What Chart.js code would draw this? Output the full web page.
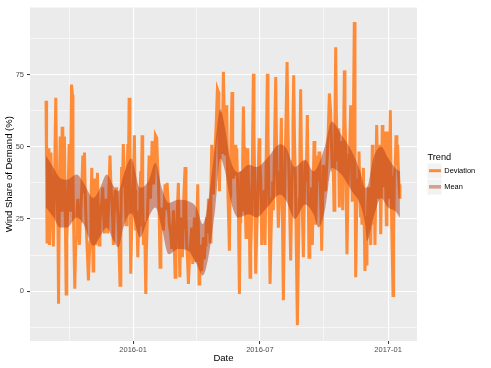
<!DOCTYPE html>
<html>
<head>
<meta charset="utf-8">
<script src="https://cdn.jsdelivr.net/npm/chart.js@4.4.1/dist/chart.umd.min.js"></script>
<style>
  html, body { margin: 0; padding: 0; background: #ffffff; }
  #wrap { width: 491px; height: 368px; }
</style>
</head>
<body>
<div id="wrap"><canvas id="chart" width="491" height="368"></canvas></div>
<script>
// x values are days counted from 2016-01-01
const deviation = [
    [-125, 66], [-124.2, 40], [-123.5, 17], [-122.5, 33], [-121.5, 49.5], [-120.8, 30], [-120, 16], [-119, 36],
    [-118, 48], [-116.3, 31], [-114.5, 15.5], [-112.8, 38], [-111, 67], [-109.8, 42], [-108.5, 28], [-107.8, 20],
    [-107, -4.4], [-105.9, 33], [-104.7, 53.6], [-104, 38], [-103.2, 28], [-102.5, 41], [-101.8, 57], [-100.9, 35],
    [-99.9, 28], [-99.2, 39], [-98.5, 53.6], [-97.3, 25], [-96.1, -1], [-95.2, 18], [-94.2, 25.5], [-93, 37],
    [-91.8, 51], [-91.1, 36], [-90.4, 28], [-89.5, 45], [-88.5, 71.6], [-87, 68], [-86.3, 40], [-85.6, 26.6],
    [-84.7, 14], [-83.7, 0.8], [-82.8, 12], [-81.8, 18.6], [-80.6, 27], [-79.4, 32], [-78.2, 22], [-77, 16],
    [-76, 24], [-75.1, 28], [-73.6, 36], [-72.2, 47], [-71, 34], [-69.8, 48], [-68.6, 33], [-67.4, 23],
    [-65.8, 14], [-64.1, 3.7], [-62.9, 12], [-61.7, 17], [-60.5, 30], [-59.3, 42.7], [-58.4, 24], [-57.4, 7],
    [-56.5, 26], [-55.5, 39], [-54.5, 25], [-53.6, 16], [-52.4, 28], [-51.2, 41], [-50, 27], [-48.8, 16],
    [-47.6, 24], [-46.4, 28], [-45, 31], [-43.6, 36], [-42.4, 27], [-41.2, 20], [-40, 26], [-38.8, 32],
    [-37.6, 26], [-36.4, 20], [-34.8, 34], [-33.2, 47], [-32, 38], [-30.7, 32], [-29.5, 25], [-28.4, 16],
    [-27.1, 27], [-25.9, 35], [-24.7, 28], [-23.6, 36], [-22.4, 29], [-21.2, 23], [-20, 13], [-18.8, 2],
    [-17.6, 24], [-16.5, 43], [-15.3, 36], [-14.1, 51], [-12.9, 42], [-11.7, 37], [-10.8, 30], [-10, 23],
    [-8.8, 38], [-7.6, 51], [-6.6, 44], [-5.7, 67], [-4.5, 33], [-3.4, 6], [-2.2, 20], [-1, 28],
    [0.5, 40], [1.9, 54], [2.8, 35], [3.8, 21], [5.2, 28], [6.7, 11.7], [7.6, 19], [8.6, 23],
    [9.8, 33], [11, 41.5], [12, 36], [12.9, 54], [13.8, 33], [14.8, 16], [16.5, 24], [18.2, -1],
    [19.1, 14], [20.1, 22], [21.5, 34], [23, 47], [24, 38], [24.9, 32], [26.1, 41], [27.3, 52],
    [28.5, 44], [29.6, 37], [30.8, 46], [32, 54], [33.9, 53], [35.1, 44], [36.3, 39], [37.5, 26],
    [38.7, 8.3], [39.9, 20], [41.1, 29], [42.3, 24], [43.5, 21], [44.7, 30], [45.9, 37], [47.3, 28],
    [48.8, 37.5], [50.5, 30], [52.1, 23], [53.8, 20], [55.5, 14.6], [56.7, 22], [57.9, 28], [59.1, 16],
    [60.3, 4.8], [61.5, 15], [62.6, 22], [63.8, 30], [65, 37.5], [66, 20], [67, 4.8], [68, 16],
    [68.9, 25.5], [69.9, 20], [70.8, 11.7], [71.8, 22], [72.7, 32], [73.7, 38], [74.6, 43], [75.8, 27],
    [77, 16], [78.2, 10], [79.4, 2.5], [80.9, 11], [82.3, 16], [84, 22], [85.6, 9.4], [86.8, 18],
    [88, 25.5], [89.2, 18], [90.4, 10.6], [91.6, 24], [92.8, 37], [93.8, 20], [94.7, 2.5], [95.7, 11],
    [96.6, 16], [97.6, 12], [98.5, 7], [99.7, 14], [100.9, 18.6], [102.1, 11], [103.3, 16], [104.5, 21],
    [105.7, 25.5], [106.9, 20], [108.1, 32], [109.3, 24], [110.5, 17], [111.7, 35], [112.9, 50.7], [114.1, 40],
    [115.3, 33.5], [116.5, 42], [117.6, 49.5], [119.3, 58], [121, 70], [122.4, 69], [123.1, 50], [123.9, 34.6],
    [125.1, 52], [126.3, 62], [127, 55], [127.7, 48], [128.6, 60], [129.6, 76], [131, 58], [132.5, 47],
    [133.4, 55], [134.4, 64.4], [135.3, 46], [136.3, 32], [137.2, 24], [138.2, 14], [139.1, 33], [140.1, 48],
    [141, 58], [142, 69], [143, 50], [143.9, 39], [145.2, 45], [146.4, 50.7], [147.5, 40], [148.7, 49.5],
    [149.9, 38], [151.1, 28], [151.8, 14], [152.6, -1], [153.5, 24], [154.5, 41.5], [155.4, 33], [156.4, 28],
    [157.3, 46], [158.3, 64], [159.2, 50], [160.2, 39], [161.1, 28], [162.1, 18.6], [163.3, 36], [164.5, 49.5],
    [165.4, 40], [166.4, 32], [167.1, 18], [167.8, 4.8], [168.8, 14], [169.8, 22], [171.2, 45], [172.6, 75.3],
    [173.5, 55], [174.5, 39], [175.2, 22], [176, 6], [177.2, 18], [178.4, 28], [179.6, 40], [180.8, 53],
    [182, 44], [183.2, 39], [183.9, 28], [184.6, 16], [185.8, 24], [187, 28], [188.2, 35], [189.4, 16],
    [191, 45], [192.7, 75.3], [193.6, 55], [194.6, 39], [195.6, 20], [196.6, 2.5], [198, 20], [199.4, 32],
    [200.3, 38], [201.3, 28], [203, 50], [204.7, 74.2], [205.6, 55], [206.6, 41.5], [207.5, 32], [208.5, 22],
    [209.7, 30], [210.9, 39], [211.8, 48], [212.8, 60], [214.2, 28], [215.7, -3.2], [216.9, 22], [218.1, 43.8],
    [219.5, 60], [221, 79.4], [222.4, 55], [223.8, 39], [225, 25], [226.2, 10.6], [227.4, 30], [228.6, 45],
    [229.5, 58], [230.5, 74.8], [231.7, 52], [232.9, 39], [234.3, 15], [235.8, -11.8], [237.2, 12], [238.6, 32],
    [239.5, 50], [240.5, 70], [241.7, 45], [242.9, 28], [243.6, 20], [244.4, 11.7], [245.6, 30], [246.8, 45],
    [248.4, 38], [250.1, 61], [251.3, 35], [252.5, 11.7], [253.7, 22], [254.9, 28], [256.1, 36], [257.3, 16],
    [258.5, 35], [259.7, 52], [260.9, 38], [262.1, 23], [263.3, 35], [264.5, 47], [265.7, 38], [266.9, 48.4],
    [268.1, 40], [269.3, 32], [270, 24], [270.7, 14], [271.9, 30], [273.1, 43.8], [274.7, 38], [276.4, 34.6],
    [277.6, 42], [278.8, 47], [280.2, 56], [281.7, 68.5], [283.6, 62], [284.8, 50], [286, 41.5], [287.2, 46],
    [288.4, 28], [289.6, 55], [290.8, 84.5], [291.7, 62], [292.7, 50.7], [293.6, 45], [294.6, 56.4], [295.3, 42],
    [296, 29], [297.2, 52], [298.4, 45], [299.6, 40], [300.8, 28], [302, 50], [303.2, 76.5], [304.1, 60],
    [305.1, 50.7], [306, 30], [307, 12.8], [308.4, 35], [309.9, 47], [311.1, 52], [312.3, 64.4], [313.5, 45],
    [314.7, 31], [316.1, 55], [317.5, 93.3], [318.5, 45], [319.5, 4.8], [320.7, 25], [321.9, 39], [323, 35],
    [324.2, 48.4], [325.4, 36], [326.6, 25.5], [327.5, 34], [328.5, 23], [329.5, 33], [330.5, 42.7], [331.6, 26],
    [332.8, 7], [333.8, 18], [334.8, 9.4], [335.7, 20], [336.7, 28], [337.6, 36], [338.6, 30], [339.8, 24],
    [341, 16], [342.2, 32], [343.4, 50.7], [344.3, 36], [345.3, 23], [346.2, 33], [347.2, 16], [348.4, 38],
    [349.6, 57.6], [350.8, 44], [352, 32], [353.2, 40], [354.4, 50.7], [355.1, 35], [355.8, 19.7], [356.7, 40],
    [357.7, 57.6], [358.6, 38], [359.6, 45], [360.6, 36], [361.6, 55.3], [362.5, 38], [363.5, 23], [364.4, 40],
    [365.4, 55.3], [366.3, 42], [367.3, 32], [368.2, 45], [369.2, 62.7], [370.2, 40], [371.2, 23], [372.1, 12],
    [373.1, -1.5], [374, 20], [375, 39], [376.2, 44], [377.4, 54], [378.6, 45], [379.8, 50.7], [380.7, 42],
    [381.7, 37], [383, 32]
];

// smoothed mean band: [day, lower, upper]
const meanBand = [
    [-125, 29, 47], [-114, 25.5, 42.7], [-105, 22, 39.2], [-95, 22, 38.6], [-81, 25.5, 40.4], [-71, 23.2, 37.5],
    [-57, 15.7, 32.3], [-47, 19, 36], [-38, 22, 40.4], [-28, 17.4, 36.4], [-21, 15.2, 34.6], [-14, 22, 40],
    [-3, 27, 46], [10, 18.6, 35.8], [22, 25.5, 38.1], [32, 29, 44.4], [41, 22, 35.8], [51, 12.8, 30.6],
    [65, 14.6, 31.7], [79, 14, 31.2], [91, 9.4, 28.9], [100, 5.4, 23.2], [109, 13, 33], [118, 29, 51],
    [125, 46, 63], [132, 41.5, 56.4], [139, 32.3, 46.1], [151, 25.5, 41.1], [166, 26.6, 43.8], [177, 25.5, 43],
    [192, 28.9, 45.9], [211, 33.5, 50.9], [220, 31.2, 49.5], [232, 25, 43], [247, 30, 45.5], [259, 26.6, 41.5],
    [266, 22, 43.8], [276, 28.9, 50.7], [285, 42.7, 58.7], [299, 40.4, 54.1], [314, 34.6, 48.4], [326, 30, 41.5],
    [333, 23.2, 35.8], [336, 17.4, 36], [345, 25.5, 46.1], [356, 32.3, 50], [366, 29, 46.1], [376, 27.8, 42.7],
    [383, 25.5, 41.5]
];

const xTickDays = [0, 182, 366];
const xTickLabels = ['2016-01', '2016-07', '2017-01'];
const xMinorDays = [-92, 91, 274];
const yTicks = [0, 25, 50, 75];
const yMinorTicks = [-12.5, 12.5, 37.5, 62.5, 87.5];

const lineColor = '#fe8b38';
const bandColor = 'rgba(175, 60, 25, 0.5)';

Chart.defaults.font.family = '"Liberation Sans", Arial, sans-serif';

// grey ggplot panel
const panelBg = {
    id: 'panelBg',
    beforeDraw(chart) {
        const a = chart.chartArea;
        const ctx = chart.ctx;
        ctx.save();
        ctx.fillStyle = '#ebebeb';
        ctx.fillRect(a.left, a.top, a.right - a.left, a.bottom - a.top);
        ctx.restore();
    }
};

// legend drawn by hand to look like ggplot's
const trendLegend = {
    id: 'trendLegend',
    afterDraw(chart) {
        const ctx = chart.ctx;
        ctx.save();
        ctx.textBaseline = 'middle';
        ctx.textAlign = 'left';
        ctx.fillStyle = '#000000';
        ctx.font = '9.2px "Liberation Sans", Arial, sans-serif';
        ctx.fillText('Trend', 427.5, 157.5);

        ctx.fillStyle = '#f2f2f2';
        ctx.fillRect(427.5, 163.5, 14, 15);
        ctx.fillRect(427.5, 179.5, 14, 15);

        ctx.strokeStyle = lineColor;
        ctx.lineWidth = 3;
        ctx.beginPath();
        ctx.moveTo(429, 170.7);
        ctx.lineTo(441, 170.7);
        ctx.stroke();

        ctx.fillStyle = 'rgba(175, 60, 25, 0.45)';
        ctx.fillRect(429, 185, 12, 3.6);

        ctx.fillStyle = '#000000';
        ctx.font = '7.4px "Liberation Sans", Arial, sans-serif';
        ctx.fillText('Deviation', 444.3, 171);
        ctx.fillText('Mean', 444.3, 187);
        ctx.restore();
    }
};

const ctx = document.getElementById('chart').getContext('2d');

new Chart(ctx, {
    type: 'line',
    data: {
        datasets: [{
            label: 'Mean low',
            data: meanBand.map(d => ({ x: d[0], y: d[1] })),
            borderWidth: 0,
            borderColor: 'rgba(0,0,0,0)',
            pointRadius: 0,
            fill: false,
            cubicInterpolationMode: 'monotone',
            order: 0
        }, {
            label: 'Mean',
            data: meanBand.map(d => ({ x: d[0], y: d[2] })),
            borderWidth: 0,
            borderColor: 'rgba(0,0,0,0)',
            backgroundColor: bandColor,
            pointRadius: 0,
            fill: '-1',
            cubicInterpolationMode: 'monotone',
            order: 0
        }, {
            label: 'Deviation',
            data: deviation.map(d => ({ x: d[0], y: d[1] })),
            borderColor: lineColor,
            borderWidth: 3,
            pointRadius: 0,
            tension: 0,
            fill: false,
            order: 1
        }]
    },
    options: {
        responsive: false,
        animation: false,
        events: [],
        layout: {
            padding: { top: 5, right: 74, left: 0, bottom: 0 }
        },
        plugins: {
            legend: { display: false },
            tooltip: { enabled: false }
        },
        scales: {
            x: {
                type: 'linear',
                min: -148,
                max: 407.5,
                afterBuildTicks: function(scale) {
                    scale.ticks = xMinorDays.concat(xTickDays).sort((a, b) => a - b).map(v => ({ value: v }));
                },
                afterFit: function(scale) {
                    scale.height = 27;
                },
                border: { display: false },
                grid: {
                    color: '#ffffff',
                    lineWidth: c => xTickDays.includes(c.tick.value) ? 1.1 : 0.55,
                    tickLength: 3,
                    tickWidth: 1,
                    tickColor: c => xTickDays.includes(c.tick.value) ? '#333333' : 'rgba(0,0,0,0)'
                },
                ticks: {
                    autoSkip: false,
                    maxRotation: 0,
                    padding: 1,
                    color: '#4d4d4d',
                    font: { size: 7.5 },
                    callback: function(value) {
                        const i = xTickDays.indexOf(value);
                        return i >= 0 ? xTickLabels[i] : '';
                    }
                },
                title: {
                    display: true,
                    text: 'Date',
                    color: '#000000',
                    font: { size: 9.5 },
                    padding: { top: 4, bottom: 4 }
                }
            },
            y: {
                type: 'linear',
                min: -17.3,
                max: 98.3,
                afterBuildTicks: function(scale) {
                    scale.ticks = yMinorTicks.concat(yTicks).sort((a, b) => a - b).map(v => ({ value: v }));
                },
                afterFit: function(scale) {
                    scale.width = 30;
                },
                border: { display: false },
                grid: {
                    color: '#ffffff',
                    lineWidth: c => yTicks.includes(c.tick.value) ? 1.1 : 0.55,
                    tickLength: 3,
                    tickWidth: 1,
                    tickColor: c => yTicks.includes(c.tick.value) ? '#333333' : 'rgba(0,0,0,0)'
                },
                ticks: {
                    autoSkip: false,
                    padding: 3,
                    color: '#4d4d4d',
                    font: { size: 7.5 },
                    callback: function(value) {
                        return yTicks.includes(value) ? String(value) : '';
                    }
                },
                title: {
                    display: true,
                    text: 'Wind Share of Demand (%)',
                    color: '#000000',
                    font: { size: 9.5 },
                    padding: { top: 4, bottom: 4 }
                }
            }
        }
    },
    plugins: [panelBg, trendLegend]
});
</script>
</body>
</html>
